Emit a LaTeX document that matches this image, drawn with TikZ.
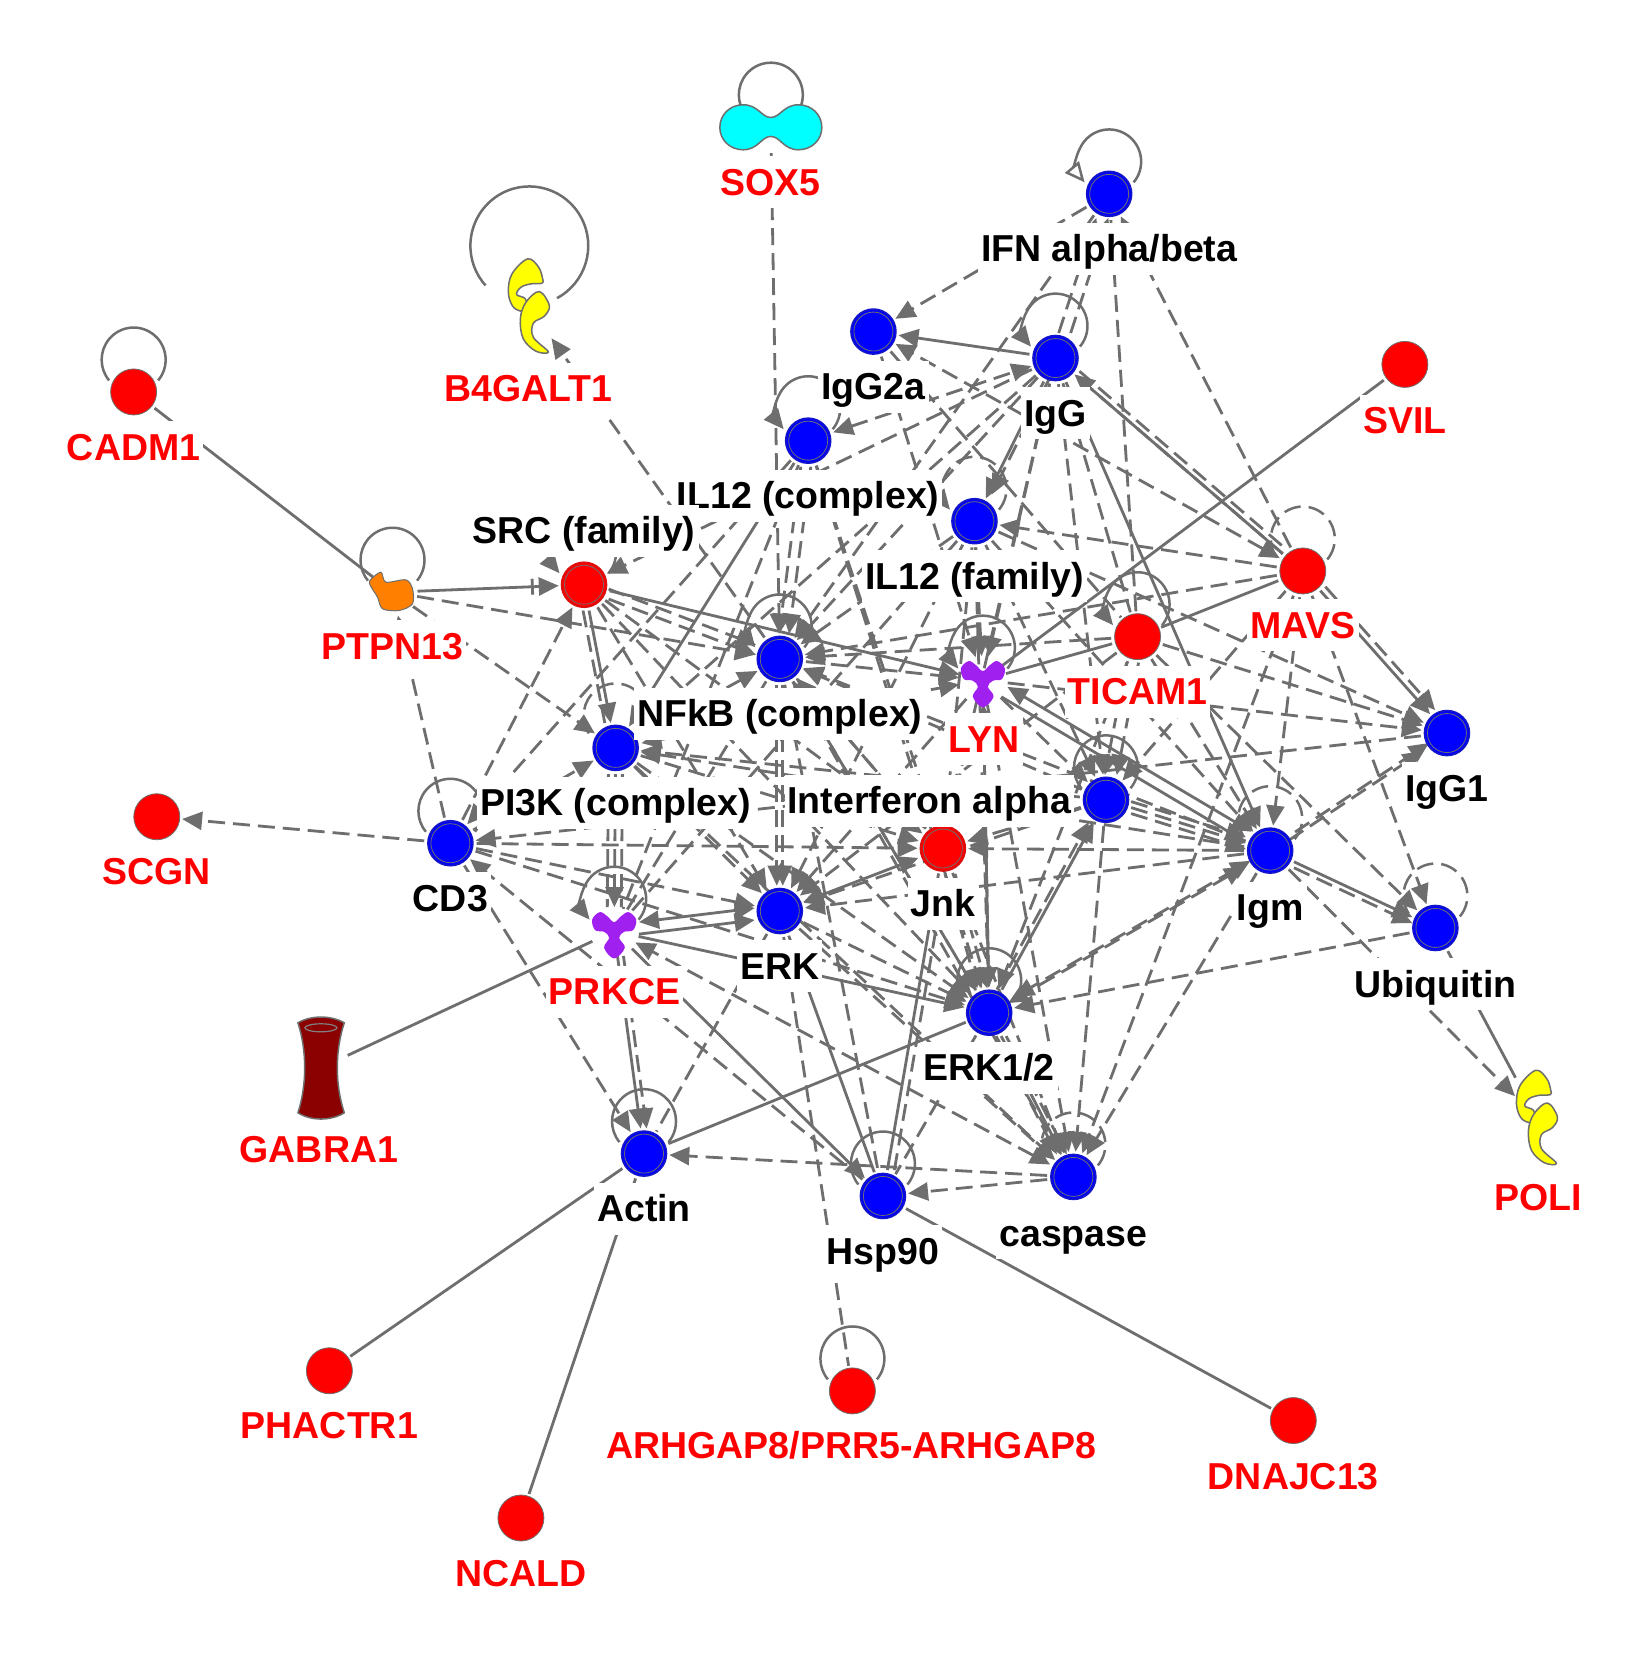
\documentclass[tikz,border=0pt]{standalone}
\usepackage{fontspec}
\setmainfont{Liberation Sans}
\usetikzlibrary{arrows.meta,calc}
\definecolor{edgegray}{HTML}{6E6E6E}
\definecolor{ringblue}{HTML}{1414C8}
\definecolor{ringred}{HTML}{D81010}
\definecolor{gabfill}{HTML}{8B0000}
\definecolor{cyanfill}{HTML}{00FFFF}
\definecolor{yellowfill}{HTML}{FFFF00}
\definecolor{purplefill}{HTML}{A020F0}
\definecolor{orangefill}{HTML}{FF8000}
\pgfdeclarelayer{edgelayer}
\pgfdeclarelayer{labellayer}
\pgfsetlayers{edgelayer,main,labellayer}
\tikzset{
  x=1.0523pt,y=1.0593pt,
  >={Triangle[length=20pt,width=18pt]},
  ln/.style={draw=edgegray,line width=2.8pt,shorten <=3pt,shorten >=2pt},
  sl/.style={ln},
  sa/.style={ln,->},
  sb/.style={ln,<->},
  da/.style={ln,->,dash pattern=on 17pt off 8pt},
  db/.style={ln,<->,dash pattern=on 17pt off 8pt},
  dl/.style={ln,dash pattern=on 17pt off 8pt},
  ofs/.style={transform canvas={shift={(#1)}}},
  lpS/.style={draw=edgegray,line width=2.5pt},
  lpA/.style={lpS,->},
  lpD/.style={lpS,dash pattern=on 17pt off 8pt},
  lpDA/.style={lpS,->,dash pattern=on 17pt off 8pt},
  bluen/.style={circle,inner sep=0pt,minimum size=45pt,fill=blue,draw=ringblue,line width=1.6pt,
    path picture={\draw[edgegray,line width=.8pt] (path picture bounding box.center) circle (19.5pt);}},
  redr/.style={circle,inner sep=0pt,minimum size=45pt,fill=red,draw=ringred,line width=1.6pt,
    path picture={\draw[edgegray,line width=.8pt] (path picture bounding box.center) circle (19.5pt);}},
  redn/.style={circle,inner sep=0pt,minimum size=46pt,fill=red,draw=edgegray,line width=.8pt},
  hold/.style={inner sep=0pt,outer sep=0pt},
  shp/.style={draw=edgegray,line width=1.5pt,line join=round},
  lab/.style={inner xsep=3pt,inner ysep=0pt,fill=white,text height=39pt,text depth=13pt,
    font=\fontsize{37.5pt}{40pt}\selectfont\bfseries},
  labk/.style={lab,text=black},
  labr/.style={lab,text=red},
}
\newcommand{\loopat}[2]{\draw[#2] (#1.center) ++(0,30.4) ++(-40:30.4) arc[start angle=-40,end angle=220,radius=30.4];}
\newcommand{\enzymeshape}[1]{%
  \begin{scope}[shift={(#1)},x=.3333pt,y=-.3333pt]
    \draw[shp,fill=yellowfill] plot[smooth cycle,tension=.6] coordinates {(-5,-145)(28,-120)(40,-85)(38,-72)(5,-70)(-25,-60)(-38,-38)(-12,-25)(-5,10)(-25,12)(-50,-3)(-63,-45)(-52,-100)};
    \draw[shp,fill=yellowfill] plot[smooth cycle,tension=.6] coordinates {(30,-47)(60,-5)(45,27)(12,48)(12,90)(57,134)(20,132)(-18,95)(-27,35)(-10,-15)};
  \end{scope}}
\newcommand{\kinaseshape}[1]{%
  \begin{scope}[shift={(#1)},x=.3333pt,y=-.3333pt]
    \draw[draw=none,fill=purplefill] plot[smooth cycle,tension=.6] coordinates {(-66,-35)(-43,-57)(-21,-45)(0,-27)(21,-45)(43,-57)(66,-35)(57,-3)(30,2)(15,20)(32,50)(0,82)(-30,50)(-15,20)(-30,2)(-57,-3)};
  \end{scope}}
\begin{document}
\begin{tikzpicture}
\useasboundingbox (0,0) rectangle (1568,-1568);

% ---------- round nodes
\foreach \n/\x/\y in {ifn/1054/183,g2a/830/313,igg/1003/338,ilc/768/416,ilf/926/492,nfk/741/622,pi3/585/706,ig1/1375/692,ina/1051/755,cd3/428/796,igm/1207/803,erk/741/860,ubi/1364/876,e12/940/956,act/612/1089,hsp/839/1129,cas/1020/1111}
  {\node[bluen] (\n) at (\x,-\y) {};}
\foreach \n/\x/\y in {src/555/552,jnk/896/801}
  {\node[redr] (\n) at (\x,-\y) {};}
\foreach \n/\x/\y in {cadm/127/370,svil/1335/344,mavs/1238/539,tic/1081/601,scgn/149/771,pha/313/1294,arh/810/1313,dna/1229/1341,nca/495/1433}
  {\node[redn] (\n) at (\x,-\y) {};}

% ---------- shaped nodes
\node[hold,minimum width=100pt,minimum height=46pt] (sox) at (732.5,-120) {};
\begin{scope}[shift={(sox.center)},x=.3333pt,y=-.3333pt]
  \draw[shp,fill=cyanfill] (0,-29) .. controls (28,-29) and (38,-67) .. (83,-67) .. controls (123,-67) and (153,-37) .. (153,1) .. controls (153,38) and (123,68) .. (83,68) .. controls (38,68) and (28,28) .. (0,28) .. controls (-28,28) and (-38,68) .. (-83,68) .. controls (-123,68) and (-153,38) .. (-153,1) .. controls (-153,-37) and (-123,-67) .. (-83,-67) .. controls (-38,-67) and (-28,-29) .. (0,-29) -- cycle;
\end{scope}
\node[hold,minimum width=42pt,minimum height=96pt] (b4) at (503,-290) {};
\enzymeshape{b4.center}
\node[hold,minimum width=42pt,minimum height=96pt] (poli) at (1461,-1056) {};
\enzymeshape{poli.center}
\node[hold,circle,minimum size=44pt] (lyn) at (934,-642) {};
\kinaseshape{lyn.center}
\node[hold,circle,minimum size=44pt] (prk) at (583.6,-879) {};
\kinaseshape{prk.center}
\node[hold,circle,minimum size=44pt] (ptp) at (373,-559) {};
\begin{scope}[shift={(ptp.center)},x=.3333pt,y=-.3333pt]
  \draw[draw=edgegray,line width=1pt,fill=orangefill] plot[smooth cycle,tension=.5] coordinates {(-68,-35)(-35,-60)(-20,-30)(40,-37)(60,-10)(60,35)(20,55)(-30,50)(-45,15)(-65,-17)};
\end{scope}
\node[hold,minimum width=48pt,minimum height=100pt] (gab) at (305,-1008) {};
\begin{scope}[shift={(gab.center)},x=.3333pt,y=-.3333pt]
  \draw[draw=edgegray,line width=1.5pt,fill=gabfill] (-69,-135) .. controls (-30,-158) and (30,-158) .. (70,-135)
    .. controls (42,-50) and (42,50) .. (70,135)
    .. controls (30,160) and (-30,160) .. (-69,135)
    .. controls (-42,50) and (-42,-50) .. (-69,-135) -- cycle;
  \draw[draw=gray,line width=1.2pt] (0,-120) ellipse [x radius=48,y radius=12];
\end{scope}

\begin{pgfonlayer}{edgelayer}
\fill[white] (0,0) rectangle (1568,-1568);
% ---------- self loops
\foreach \n in {sox,cadm,ptp,cd3,arh,act,hsp,e12,ina} {\loopat{\n}{lpS}}
\foreach \n in {igg,ilc,nfk,lyn,src,tic,prk} {\loopat{\n}{lpA}}
\foreach \n in {mavs,pi3,igm,ubi,cas} {\loopat{\n}{lpD}}
\loopat{ilf}{lpDA}
\loopat{ifn}{lpS,-{Triangle[open,fill=white,length=20pt,width=18pt]}}
\draw[lpS] (b4.center) ++(0,58) ++(-62:56) arc[start angle=-62,end angle=222,radius=56];

% ---------- solid connectors without heads
\foreach \a/\b in {cadm/ptp,svil/lyn,tic/lyn,gab/prk,act/e12,act/pha,act/nca,hsp/dna,hsp/jnk,erk/hsp,mavs/tic,ubi/poli}
  {\draw[sl] (\a) -- (\b);}
% ---------- solid arrows
\foreach \a/\b in {igg/g2a,src/lyn,src/pi3,prk/e12,prk/act,prk/hsp,igg/igm,igg/ilf,mavs/ig1,igm/ubi,e12/lyn,e12/ina,e12/cas,ilc/pi3,mavs/igg}
  {\draw[sa] (\a) -- (\b);}
\draw[sb,ofs={0pt,6pt}] (prk) -- (erk);
\draw[sa,ofs={0pt,-6pt}] (prk) -- (erk);
\draw[sb] (jnk) -- (erk);
\draw[sb,ofs={3pt,6pt}] (lyn) -- (igm);
\draw[sa,ofs={-3pt,-4pt}] (lyn) -- (igm);
\draw[ln,-{Bar[width=16pt,sep=5pt]Triangle[length=20pt,width=18pt]}] (ptp) -- (src);
% ---------- dashed arrows
\foreach \a/\b in {sox/nfk,nfk/b4,cd3/scgn,cd3/ptp,ptp/pi3,ptp/nfk,cd3/src,cd3/pi3,cd3/act,cd3/jnk,cd3/erk,cd3/e12,hsp/cd3,
  ifn/nfk,ifn/g2a,ilc/cd3,ilc/jnk,ilc/e12,mavs/ifn,
  igg/src,g2a/lyn,igg/lyn,igg/jnk,igg/ina,igg/pi3,igg/nfk,mavs/ilf,mavs/igg,
  ilf/nfk,ilf/lyn,ilf/jnk,ilf/e12,ilf/ina,ilf/igm,ilf/erk,ilf/ig1,
  src/erk,src/jnk,src/e12,pi3/erk,pi3/jnk,pi3/nfk,pi3/e12,pi3/cas,
  nfk/jnk,nfk/lyn,nfk/e12,nfk/cas,
  tic/nfk,tic/e12,mavs/nfk,mavs/ina,mavs/igm,mavs/cas,mavs/ubi,
  tic/ig1,tic/igm,tic/ubi,tic/erk,
  lyn/ig1,lyn/erk,lyn/ina,lyn/cas,lyn/e12,ig1/cd3,
  ina/jnk,ina/cas,ina/pi3,ina/nfk,ina/erk,
  igm/jnk,igm/erk,igm/pi3,igm/nfk,igm/cas,igm/poli,
  ubi/e12,jnk/cas,erk/e12,erk/cas,cas/act,cas/hsp,e12/nfk,jnk/nfk}
  {\draw[da] (\a) -- (\b);}
% ---------- dashed without visible head
\foreach \a/\b in {ifn/tic,igg/tic,g2a/tic,ilc/prk,nfk/prk,ilf/prk,nfk/hsp,e12/hsp,erk/arh,erk/act}
  {\draw[dl] (\a) -- (\b);}
% ---------- dashed, both heads
\foreach \a/\b in {mavs/g2a,ilc/igg,pi3/lyn,cas/prk}
  {\draw[db] (\a) -- (\b);}
% ---------- parallel dashed pairs
\draw[da,ofs={-5pt,0pt}] (igg) -- (ifn);
\draw[da,ofs={7pt,0pt}] (igg) -- (ifn);
\draw[da,ofs={6pt,4pt}] (igg) -- (ilf);
\draw[da,ofs={-4pt,0pt}] (ilc) -- (nfk);
\draw[da,ofs={6pt,0pt}] (ilc) -- (nfk);
\draw[da,ofs={0pt,5pt}] (src) -- (nfk);
\draw[da,ofs={0pt,-5pt}] (src) -- (nfk);
\draw[dl,ofs={-6pt,0pt}] (src) -- (pi3);
\draw[dl,ofs={-7pt,0pt}] (pi3) -- (prk);
\draw[da,ofs={0pt,0pt}] (pi3) -- (prk);
\draw[dl,ofs={7pt,0pt}] (pi3) -- (prk);
\draw[da,ofs={-3pt,0pt}] (nfk) -- (erk);
\draw[da,ofs={3pt,0pt}] (nfk) -- (erk);
\draw[da,ofs={5pt,4pt}] (mavs) -- (ig1);
\draw[da,ofs={-6pt,0pt}] (tic) -- (ina);
\draw[da,ofs={6pt,0pt}] (tic) -- (ina);
\draw[da,ofs={0pt,6pt}] (ina) -- (igm);
\draw[da,ofs={0pt,0pt}] (ina) -- (igm);
\draw[da,ofs={0pt,-6pt}] (ina) -- (igm);
\draw[da,ofs={-3pt,-4pt}] (igm) -- (ig1);
\draw[da,ofs={3pt,4pt}] (igm) -- (ig1);
\draw[db,ofs={-3pt,-3pt}] (igm) -- (e12);
\draw[db,ofs={3pt,3pt}] (igm) -- (e12);
\draw[da,ofs={0pt,-6pt}] (igm) -- (ubi);
\draw[da,ofs={-5pt,0pt}] (jnk) -- (e12);
\draw[da,ofs={5pt,0pt}] (jnk) -- (e12);
\draw[da,ofs={-5pt,0pt}] (e12) -- (cas);
\draw[da,ofs={5pt,0pt}] (e12) -- (cas);
\draw[da,ofs={-5pt,0pt}] (e12) -- (ina);
\draw[da,ofs={6pt,0pt}] (prk) -- (act);
\draw[dl,ofs={7pt,0pt}] (hsp) -- (jnk);
\draw[dl,ofs={4pt,4pt}] (igg) -- (mavs);
\end{pgfonlayer}

% ---------- labels (white boxes sit over edges and nodes)
\begin{pgfonlayer}{labellayer}
\foreach \n/\x/\y/\t in {ll1/732/172/SOX5,ll2/502/367/B4GALT1,ll3/127/422/CADM1,ll4/1335/397/SVIL,ll5/373/610/PTPN13,ll6/1238/590/MAVS,ll7/1081/653/TICAM1,ll8/935/698/LYN,ll9/149/823/SCGN,ll10/584/936/PRKCE,ll11/303/1085/GABRA1,ll12/1462/1130/POLI,ll13/313/1346/PHACTR1,ll14/809/1365/{ARHGAP8/PRR5-ARHGAP8},ll15/1229/1394/DNAJC13,ll16/495/1485/NCALD}
  {\node[labr] (\n) at (\x,-\y) {\t};}
\foreach \n/\x/\y/\t in {lk1/1054/235/IFN alpha{/}beta,lk2/830/365/IgG2a,lk3/1003/390/IgG,lk4/768/468/IL12 (complex),lk5/926/544/IL12 (family),lk6/555/501/SRC (family),lk7/741/674/NFkB (complex),lk8/585/758/PI3K (complex),lk9/1375/744/IgG1,lk10/883/756/Interferon alpha,lk11/428/848/CD3,lk12/896/853/Jnk,lk13/1207/857/Igm,lk14/741/912/ERK,lk15/1364/929/Ubiquitin,lk16/940/1008/ERK1{/}2,lk17/612/1141/Actin,lk18/839/1181/Hsp90,lk19/1020/1164/caspase}
  {\node[labk] (\n) at (\x,-\y) {\t};}
\end{pgfonlayer}
\end{tikzpicture}
\end{document}
